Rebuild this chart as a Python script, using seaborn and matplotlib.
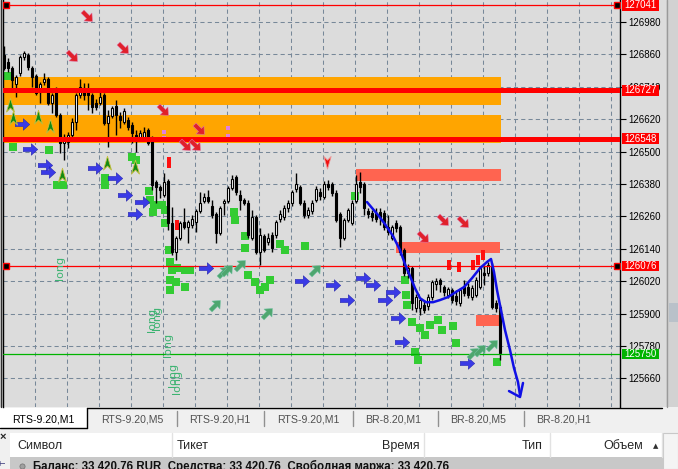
import numpy as np
import pandas as pd
import seaborn as sns
import matplotlib.pyplot as plt
from matplotlib.path import Path
from matplotlib.transforms import Affine2D, blended_transform_factory
from matplotlib.patches import Rectangle

# -----------------------------------------------
# Данные: свечи RTS-9.20, M1 (цены)
# -----------------------------------------------
bar_open = [126857, 126831, 126809, 126750, 126791, 126850, 126857, 126809, 126780, 126720,
            126757, 126768, 126680, 126731, 126635, 126531, 126535, 126561, 126609, 126709,
            126735, 126731, 126709, 126680, 126680, 126709, 126605, 126631, 126668, 126631,
            126609, 126617, 126598, 126561, 126550, 126554, 126580, 126550, 126387, 126368,
            126339, 126391, 126235, 126128, 126180, 126239, 126220, 126228, 126239, 126280,
            126317, 126331, 126298, 126268, 126198, 126309, 126317, 126365, 126405, 126339,
            126320, 126309, 126180, 126257, 126128, 126187, 126165, 126191, 126191, 126250,
            126257, 126291, 126309, 126361, 126368, 126309, 126265, 126280, 126320, 126350,
            126331, 126380, 126380, 126346, 126268, 126180, 126246, 126235, 126317, 126387,
            126380, 126280, 126272, 126272, 126276, 126272, 126220, 126180, 126235, 126220,
            126135, 126050, 126068, 125920, 125920, 125931, 125928, 125961, 126009, 126024,
            125998, 125968, 125987, 125965, 125939, 125998, 125998, 125961, 125968, 125998,
            126050, 126050, 126072, 125939, 125924]
bar_high = [126891, 126846, 126817, 126783, 126857, 126872, 126865, 126817, 126787, 126757,
            126791, 126776, 126717, 126739, 126643, 126565, 126572, 126624, 126717, 126768,
            126754, 126754, 126717, 126694, 126720, 126717, 126654, 126668, 126691, 126646,
            126661, 126628, 126609, 126580, 126580, 126591, 126587, 126557, 126394, 126376,
            126420, 126398, 126294, 126187, 126243, 126291, 126246, 126265, 126287, 126350,
            126346, 126357, 126320, 126276, 126298, 126324, 126372, 126413, 126413, 126357,
            126328, 126320, 126283, 126265, 126217, 126194, 126198, 126202, 126246, 126283,
            126302, 126320, 126357, 126420, 126376, 126320, 126294, 126320, 126372, 126365,
            126391, 126394, 126387, 126357, 126276, 126254, 126291, 126320, 126413, 126424,
            126387, 126291, 126283, 126291, 126291, 126283, 126265, 126228, 126246, 126228,
            126143, 126083, 126076, 125972, 125957, 125950, 125972, 126024, 126031, 126031,
            126005, 125998, 125994, 125987, 125994, 126024, 126013, 126005, 126035, 126072,
            126080, 126091, 126087, 125950, 125931]
bar_low = [126802, 126794, 126728, 126702, 126780, 126839, 126802, 126739, 126709, 126680,
           126746, 126672, 126643, 126628, 126494, 126468, 126513, 126550, 126580, 126698,
           126691, 126654, 126643, 126654, 126672, 126598, 126517, 126624, 126561, 126587,
           126602, 126580, 126531, 126498, 126543, 126546, 126524, 126357, 126309, 126328,
           126331, 126209, 126117, 126098, 126172, 126213, 126161, 126217, 126202, 126272,
           126309, 126309, 126254, 126161, 126191, 126265, 126309, 126357, 126339, 126283,
           126302, 126180, 126172, 126120, 126080, 126128, 126154, 126128, 126180, 126239,
           126246, 126276, 126298, 126350, 126302, 126254, 126254, 126268, 126313, 126320,
           126324, 126357, 126335, 126239, 126146, 126172, 126239, 126228, 126309, 126346,
           126265, 126254, 126243, 126239, 126228, 126209, 126191, 126172, 126202, 126117,
           126039, 126031, 125913, 125905, 125894, 125902, 125913, 125950, 125987, 125980,
           125965, 125957, 125939, 125931, 125928, 125965, 125957, 125950, 125961, 125991,
           126005, 126039, 125917, 125905, 125728]
bar_close = [126809, 126809, 126765, 126776, 126850, 126865, 126813, 126776, 126717, 126750,
             126768, 126680, 126709, 126635, 126531, 126550, 126561, 126609, 126709, 126739,
             126709, 126709, 126665, 126665, 126702, 126605, 126631, 126661, 126635, 126617,
             126650, 126591, 126568, 126543, 126568, 126572, 126531, 126376, 126368, 126357,
             126387, 126235, 126128, 126180, 126235, 126220, 126239, 126250, 126280, 126309,
             126331, 126317, 126265, 126198, 126291, 126317, 126365, 126398, 126350, 126320,
             126309, 126191, 126257, 126128, 126191, 126135, 126180, 126143, 126239, 126268,
             126291, 126309, 126350, 126380, 126309, 126265, 126283, 126309, 126361, 126335,
             126380, 126368, 126346, 126246, 126180, 126246, 126283, 126309, 126380, 126368,
             126291, 126268, 126257, 126250, 126257, 126220, 126202, 126220, 126217, 126128,
             126050, 126068, 125939, 125961, 125950, 125913, 125961, 126017, 126020, 126009,
             125980, 125991, 125950, 125946, 125987, 125976, 125968, 125994, 126024, 126068,
             126043, 126080, 125924, 125920, 125754]

price_ticks = [126980, 126860, 126740, 126620, 126500, 126380,
               126260, 126140, 126020, 125900, 125780, 125660]

# уровни с ценниками справа
level_price = [127041, 126727, 126548, 126076, 125750]
level_text = ["127041", "126727", "126548", "126076", "125750"]

# зоны (начало/конец в барах, границы в цене)
orange_start = [-0.25, -0.25]
orange_end = [124.25, 124.25]
orange_low = [126672, 126531]
orange_high = [126776, 126635]
salmon_start = [88, 98, 118]
salmon_end = [124.25, 124, 123.75]
salmon_low = [126391, 126124, 125854]
salmon_high = [126435, 126165, 125894]

# сигналы индикаторов
green_bar = [0.75, 2.25, 11.25, 13.25, 14.75, 25.25, 25.25, 32, 33, 36.25,
             36.5, 37.5, 37.25, 39.5, 40.25, 40.25, 41.25, 41.5, 42, 43.25,
             45.25, 46.5, 41.5, 41.5, 43, 45.25, 57.5, 57.75, 60.25, 60.25,
             69, 70.25, 75.25, 61, 62.75, 64, 65.25, 66.5, 87.75, 100.25,
             100.5, 100.75, 102, 104, 106.5, 108.5, 105.25, 102.75, 103.5, 109.5,
             112.25, 113, 123.25]
green_price = [126780, 126517, 126505, 126376, 126376, 126402, 126376, 126480, 126468, 126354,
               126320, 126302, 126276, 126302, 126283, 126235, 126135, 126091, 126061, 126068,
               126061, 126061, 126024, 125987, 126017, 125998, 126276, 126246, 126187, 126143,
               126157, 126135, 126150, 126043, 126017, 125987, 125998, 126024, 126335, 126024,
               125968, 125931, 125868, 125846, 125857, 125876, 125820, 125757, 125728, 125839,
               125854, 125791, 125720]
blue_bar = [4.5, 6.5, 10.25, 11, 22.75, 27.75, 30.25, 34.5, 32.75, 50.5,
            74.5, 82.25, 85.75, 89.75, 92.25, 97.25, 95.25, 98.5, 99.5, 115.75]
blue_price = [126602, 126509, 126450, 126424, 126439, 126402, 126339, 126313, 126268, 126068,
              126020, 126005, 125950, 126031, 126005, 125980, 125950, 125883, 125794, 125717]
sell_bar = [20.75, 17, 29.75, 39.75, 48.75, 45.25, 47.75, 104.75, 109.75, 114.75]
sell_price = [127002, 126854, 126883, 126654, 126583, 126524, 126524, 126183, 126246, 126239]
buy_bar = [54.75, 52.75, 55.75, 59, 77.75, 65.75, 117.25, 119, 122]
buy_price = [126054, 125931, 126061, 126080, 126061, 125902, 125754, 125765, 125783]
up_bar = [1.5, 2.25, 8.5, 11.5, 14.5, 25.75, 32.75]
up_price = [126672, 126624, 126628, 126594, 126413, 126457, 126442]
down_bar = [80.75]
down_price = [126461]
red_bar = [41.25, 43.25, 111.25, 113.75, 117.25, 118.5, 119.75]
red_price = [126459, 126228, 126080, 126072, 126080, 126098, 126117]
pink_bar = [40, 40, 56, 56]
pink_price = [126572, 126550, 126587, 126557]
long_bar = [14, 37, 38.25, 41, 42.25, 43.25]
long_price = [126068, 125876, 125883, 125783, 125672, 125646]

# нарисованная от руки синяя линия
curve_bar = [90.75, 92, 93.5, 95.25, 97.25, 99, 100.25, 101.5, 102.75, 104,
             105.5, 107.25, 109, 111, 113, 115, 117, 119, 120.75, 121.75,
             122.5, 123.25, 124, 125.25, 126.5, 127.5, 128.5, 129]
curve_price = [126313, 126291, 126265, 126231, 126187, 126135, 126083, 126039, 125994, 125957,
               125942, 125942, 125950, 125961, 125980, 125998, 126031, 126068, 126091, 126102,
               126054, 125987, 125931, 125839, 125765, 125698, 125646, 125598]
head_bar = [126.25, 129, 129.75]
head_price = [125613, 125591, 125643]

tabs = ["RTS-9.20,M1", "RTS-9.20,M5", "RTS-9.20,H1", "RTS-9.20,M1",
        "BR-8.20,M1", "BR-8.20,M5", "BR-8.20,H1"]
columns = ["Символ", "Тикет", "Время", "Тип", "Объем"]
status = "Баланс: 33 420.76 RUR  Средства: 33 420.76  Свободная маржа: 33 420.76"

# -----------------------------------------------
# Стиль
# -----------------------------------------------
sns.set_style("white")
plt.rcParams["font.family"] = ["Liberation Sans", "DejaVu Sans"]

W, H = 678, 469
BG = "#DCDCDC"
fig = plt.figure(figsize=(W / 100, H / 100), dpi=100, facecolor=BG)

# маркеры-стрелки
arrow = Path([(-1.0, 0.3), (0.1, 0.3), (0.1, 0.8), (1.0, 0.0), (0.1, -0.8),
              (0.1, -0.3), (-1.0, -0.3), (-1.0, 0.3)], closed=True)
arrow_dn = arrow.transformed(Affine2D().rotate_deg(-45))
arrow_up = arrow.transformed(Affine2D().rotate_deg(45))
spike = Path([(0, 1), (0.55, -0.9), (0, -0.35), (-0.55, -0.9), (0, 1)], closed=True)
spike_dn = spike.transformed(Affine2D().rotate_deg(180))
tall = Path([(-0.4, -1), (0.4, -1), (0.4, 1), (-0.4, 1), (-0.4, -1)], closed=True)

# -----------------------------------------------
# Фон терминала (пиксельные координаты)
# -----------------------------------------------
bg = fig.add_axes([0, 0, 1, 1], zorder=-1)
bg.set_xlim(0, W)
bg.set_ylim(H, 0)
bg.axis("off")
bg.plot([0.5, 0.5], [0, 407], color="#303030", lw=1)
bg.add_patch(Rectangle((666, 0), 12, 407, facecolor="#D2D2D2", edgecolor="none"))
bg.plot([667, 667], [0, 407], color="#9A9A9A", lw=1)
bg.add_patch(Rectangle((669, 303), 9, 19, facecolor="#B9C1C9", edgecolor="none"))

# нижняя панель: вкладки и таблица
bg.add_patch(Rectangle((0, 407), W, 62, facecolor="#F0F0F0", edgecolor="none"))
bg.add_patch(Rectangle((0, 408), 87, 20, facecolor="white", edgecolor="none"))
bg.plot([87, 87], [408, 428], color="black", lw=1)
bg.plot([0, 87], [428, 428], color="black", lw=1)
bg.plot([87, 662], [408.5, 408.5], color="black", lw=1)
tab_x = [12, 101, 189, 277, 365, 450, 536]
for i, t in enumerate(tabs):
    bg.text(tab_x[i], 419, t, fontsize=7.6, va="center", ha="left",
            color="black" if i == 0 else "#505050")
for sx in [177, 264, 353, 438, 524]:
    bg.plot([sx, sx], [411, 426], color="#909090", lw=1)

bg.add_patch(Rectangle((10, 433), 653, 24, facecolor="white", edgecolor="none"))
bg.add_patch(Rectangle((663, 433), 15, 36, facecolor="#F4F4F4", edgecolor="#C8C8C8", lw=0.8))
for sx in [172, 424, 550, 662]:
    bg.plot([sx, sx], [433, 457], color="#E2E2E2", lw=1)
bg.text(17, 446, columns[0], fontsize=9, va="center", ha="left")
bg.text(177, 446, columns[1], fontsize=9, va="center", ha="left")
bg.text(420, 446, columns[2], fontsize=9, va="center", ha="right")
bg.text(543, 446, columns[3], fontsize=9, va="center", ha="right")
bg.text(643, 446, columns[4], fontsize=9, va="center", ha="right")
bg.text(656, 446, "▲", fontsize=5, va="center", ha="center",
        family=["DejaVu Sans"], color="#303030")
bg.text(3, 437, "×", fontsize=8, va="center", ha="center", fontweight="bold")
bg.text(4, 462, "Т", fontsize=6, va="center", ha="center", rotation=90, color="#404080")
bg.add_patch(Rectangle((10, 457), 653, 12, facecolor="#C8C8C8", edgecolor="none"))
bg.scatter([22], [466], s=14, color="#A0A0A0", edgecolor="#707070", lw=0.5)
bg.text(33, 460, status, fontsize=8.3, va="top", ha="left", fontweight="bold",
        color="#101010")

# -----------------------------------------------
# График
# -----------------------------------------------
ax = fig.add_axes([3 / W, 1 - 407 / H, 617 / W, 407 / H])
ax.set_facecolor(BG)

# сетка
grid_x = [7.75 + 8 * k for k in range(19)]
for gx in grid_x:
    ax.axvline(gx, color="#778899", lw=0.75, ls=(0, (4, 3)), zorder=0.5)
for gy in price_ticks:
    ax.axhline(gy, color="#778899", lw=0.75, ls=(0, (4, 3)), zorder=0.5)

# зоны
for s, e, lo, hi in zip(orange_start, orange_end, orange_low, orange_high):
    ax.fill_between([s, e], lo, hi, color="#FFA500", lw=0, zorder=1)
for s, e, lo, hi in zip(salmon_start, salmon_end, salmon_low, salmon_high):
    ax.fill_between([s, e], lo, hi, color="#FF6450", lw=0, zorder=1)

# метки-квадраты
sns.scatterplot(x=green_bar, y=green_price, marker="s", s=34, color="#33CC33",
                edgecolor="none", linewidth=0, ax=ax, zorder=2, legend=False)
sns.scatterplot(x=red_bar, y=red_price, marker=tall, s=60, color="#FF1010",
                edgecolor="none", linewidth=0, ax=ax, zorder=2, legend=False)
sns.scatterplot(x=pink_bar, y=pink_price, marker="s", s=12, color="#E080E0",
                edgecolor="none", linewidth=0, ax=ax, zorder=2, legend=False)

# свечи
df = pd.DataFrame({"bar": np.arange(len(bar_close)), "open": bar_open,
                   "high": bar_high, "low": bar_low, "close": bar_close})
up = df["close"] >= df["open"]
ax.vlines(df["bar"], df["low"], df["high"], color="black", lw=1.0, zorder=3)
body_lo = df[["open", "close"]].min(axis=1)
body_h = (df["close"] - df["open"]).abs().clip(lower=3)
ax.bar(df["bar"][up], body_h[up], bottom=body_lo[up], width=0.7,
       color="white", edgecolor="black", lw=0.8, zorder=4)
ax.bar(df["bar"][~up], body_h[~up], bottom=body_lo[~up], width=0.7,
       color="black", edgecolor="black", lw=0.8, zorder=4)

# горизонтальные уровни
ax.axhline(level_price[0], color="#FF0000", lw=0.9, zorder=5)
ax.axhline(level_price[1], color="#FF0000", lw=3.6, zorder=5)
ax.axhline(level_price[2], color="#FF0000", lw=3.6, zorder=5)
ax.axhline(level_price[3], color="#FF0000", lw=0.9, zorder=5)
ax.axhline(level_price[4], color="#00B400", lw=0.9, zorder=5)
for p in [level_price[0], level_price[3]]:
    ax.plot([0.5, 153.25], [p, p], ls="none", marker="s", ms=4, mfc="black",
            mec="#FF0000", mew=1, zorder=6)

# стрелки сигналов
sns.scatterplot(x=blue_bar, y=blue_price, marker=arrow, s=110, color="#3A3AE6",
                edgecolor="#2020A0", linewidth=0.3, ax=ax, zorder=7, legend=False)
sns.scatterplot(x=sell_bar, y=sell_price, marker=arrow_dn, s=85, color="#E0202A",
                edgecolor="#E070A0", linewidth=0.4, ax=ax, zorder=7, legend=False)
sns.scatterplot(x=buy_bar, y=buy_price, marker=arrow_up, s=85, color="#4EA66E",
                edgecolor="#70C0A0", linewidth=0.4, ax=ax, zorder=7, legend=False)
sns.scatterplot(x=up_bar, y=up_price, marker=spike, s=110, color="#138A13",
                edgecolor="#C8C040", linewidth=0.6, ax=ax, zorder=7, legend=False)
sns.scatterplot(x=down_bar, y=down_price, marker=spike_dn, s=90, color="#F01010",
                edgecolor="#F09090", linewidth=0.6, ax=ax, zorder=7, legend=False)

for bx, py in zip(long_bar, long_price):
    ax.text(bx, py, "long", rotation=90, fontsize=8, color="#3CB371",
            ha="center", va="center", family=["DejaVu Sans"], zorder=6)

# синяя линия
sns.lineplot(x=curve_bar, y=curve_price, sort=False, estimator=None,
             color="#1010E6", lw=1.8, ax=ax, zorder=8)
sns.lineplot(x=head_bar, y=head_price, sort=False, estimator=None,
             color="#1010E6", lw=1.8, ax=ax, zorder=8)

# оси
ax.set_xlim(-0.25, 154)
ax.set_ylim(125554, 127061)
ax.set_xticks([])
ax.yaxis.tick_right()
ax.set_yticks(price_ticks)
ax.set_yticklabels([str(p) for p in price_ticks])
ax.tick_params(axis="y", right=True, length=4, width=0.8, pad=2,
               labelsize=7, colors="black")
for side in ["top", "bottom"]:
    ax.spines[side].set_visible(False)
ax.spines["left"].set_color("black")
ax.spines["right"].set_color("black")
ax.spines["left"].set_linewidth(1)
ax.spines["right"].set_linewidth(1)

# ценники уровней
trans = blended_transform_factory(ax.transAxes, ax.transData)
for p, t in zip(level_price, level_text):
    fc = "#00B400" if p == level_price[4] else "#FF0000"
    ax.add_patch(Rectangle((1.0032, p - 20), 0.06, 40, transform=trans,
                           facecolor=fc, edgecolor="none", clip_on=False, zorder=9))
    ax.text(1.0332, p, t, transform=trans, fontsize=7, color="white",
            ha="center", va="center", clip_on=False, zorder=10)
ax.set_xlabel("")
ax.set_ylabel("")

fig.savefig("out.png", dpi=100, facecolor=BG)
